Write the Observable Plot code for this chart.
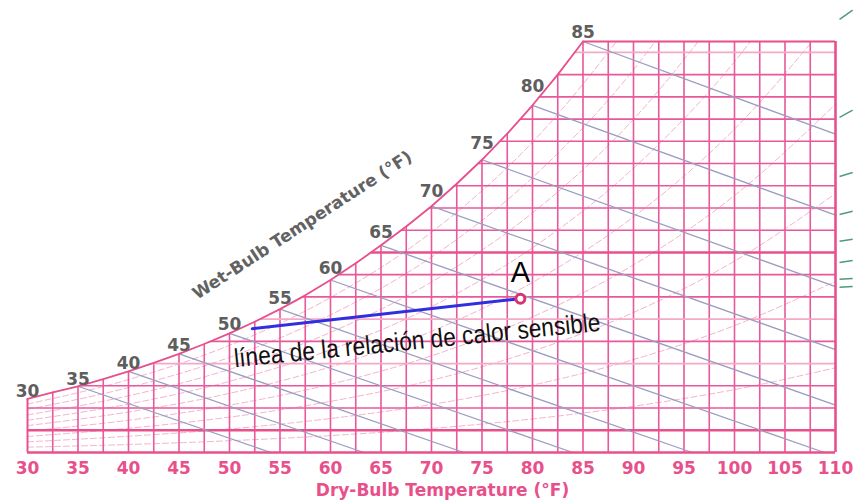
<!DOCTYPE html>
<html><head><meta charset="utf-8">
<script src="https://cdn.jsdelivr.net/npm/d3@7"></script>
<script src="https://cdn.jsdelivr.net/npm/@observablehq/plot@0.6"></script>
<style>body{margin:0;background:#fff}</style>
</head><body><div id="chart"></div>
<script>
// Saturation curve: dry-bulb (°F) vs humidity ratio (grains / lb dry air)
const satTemps  = [30,32.5,35,37.5,40,42.5,45,47.5,50,52.5,55,57.5,60,62.5,65,67.5,70,72.5,75,77.5,80,82.5,85];
const satGrains = [24.1,27.1,29.8,33.0,36.5,40.3,44.4,48.8,53.6,58.8,64.5,70.7,77.6,85.1,93.2,101.7,110.8,120.9,131.7,143.4,156.2,170.0,184.9];

const dryBulbTicks = [30,35,40,45,50,55,60,65,70,75,80,85,90,95,100,105,110];
const wetBulbLabels = [30,35,40,45,50,55,60,65,70,75,80,85];
const gridTemps = [32.5,35,37.5,40,42.5,45,47.5,50,52.5,55,57.5,60,62.5,65,67.5,70,72.5,75,77.5,80,82.5,85,87.5,90,92.5,95,97.5,100,102.5,105,107.5];
const gridGrains = [10,20,30,40,50,60,70,80,90,100,110,120,130,140,150,160,170,180];
const lightGrains = [40,60,180];
const heavyGrains = [10,90];

// Relative humidity curves (10 % ... 90 %) sampled at these dry-bulb temps
const rhTemps = [30,40,50,60,70,80,90,100,110];
const rh10 = [2.4,3.6,5.3,7.6,10.8,15.1,20.8,28.3,38.1];
const rh20 = [4.8,7.3,10.6,15.3,21.6,30.3,41.8,57.1,77.0];
const rh30 = [7.2,10.9,15.9,23.0,32.5,45.6,63.0,86.1,116.5];
const rh40 = [9.7,14.5,21.3,30.7,43.5,61.0,84.4,115.6,156.7];
const rh50 = [12.1,18.2,26.6,38.5,54.5,76.5,106.0,145.5,197.7];
const rh60 = [14.5,21.8,32.0,46.2,65.6,92.1,127.9,175.8,239.4];
const rh70 = [16.9,25.5,37.4,54.0,76.7,107.8,149.9,206.4];
const rh80 = [19.4,29.2,42.8,61.9,87.9,123.7,172.2,237.5];
const rh90 = [21.8,32.8,48.2,69.7,99.1,139.6,194.7];
const rhSeries = [rh10,rh20,rh30,rh40,rh50,rh60,rh70,rh80,rh90];

// Wet-bulb lines: start on saturation at the wet-bulb temp, end at chart edge
const wbTemps      = [35,40,45,50,55,60,65,70,75,80,85];
const wbEndTemps   = [54.1,63.3,73.2,84.0,95.8,108.9,110,110,110,110,110];
const wbEndGrains  = [0,0,0,0,0,0,21.3,46.3,74.6,106.8,143.2];

// Sensible heat ratio line, from its start to state point A
const shrTemps  = [52.25, 78.8];
const shrGrains = [55.7, 69.2];

// Cut-off protractor ticks at the right edge
const protTempsLeftRight = [110.4, 111.7];
const protLeft  = [194.9,150.8,124.2,107.1,95.0,85.5,77.9,74.3];
const protRight = [199.0,154.0,126.0,108.5,95.9,86.4,78.3,74.7];

const xTitle = "Dry-Bulb Temperature (°F)";
const wbTitle = "Wet-Bulb Temperature (°F)";
const shrLabel = "línea de la relación de calor sensible";
const pointLabel = "A";

const tMin = 30, tMax = 110, wTop = satGrains[satGrains.length-1], tSatEnd = satTemps[satTemps.length-1];
const satData = satTemps.map((t,i)=>({t, w: satGrains[i]}));
const satAt = t => satGrains[satTemps.indexOf(t)];

const rhData = rhSeries.flatMap((s,k)=> s.map((w,i)=>({rh:(k+1)*10, t: rhTemps[i], w})));

const pink = "#e8508b", pinkLight = "#f4a9c7", gridPink = "#e8589a", rhPink = "#f5b3cd";
const numFont = "DejaVu Sans";

// label offsets (px) derived from local slope of the curve
const xpx = (835-27)/(tMax-tMin), ypx = (452-41)/wTop;
const wbLabelData = wetBulbLabels.map((t,k)=>{
  const i = satTemps.indexOf(t);
  const a = satGrains[Math.max(0,i-1)], b = satGrains[Math.min(satGrains.length-1,i+1)];
  const dt = satTemps[Math.min(satTemps.length-1,i+1)] - satTemps[Math.max(0,i-1)];
  const s = (b-a)/dt*ypx/xpx;
  const off = (k === wetBulbLabels.length-1) ? 9 : 3.5 + 13*s;
  return {t, w: satGrains[i] + off/ypx, label: String(t)};
});

const shrMid = {t:(shrTemps[0]+shrTemps[1])/2, w:(shrGrains[0]+shrGrains[1])/2};

const chart = Plot.plot({
  width: 855, height: 501,
  marginLeft: 27, marginRight: 20, marginTop: 41, marginBottom: 49,
  x: {domain: [tMin, tMax], range: [27, 835], axis: null},
  y: {domain: [0, wTop], range: [452, 41], axis: null},
  marks: [
    // RH curves
    Plot.line(rhData, {x:"t", y:"w", z:"rh", curve:"monotone-x", stroke: rhPink, strokeWidth: 1, strokeDasharray: "6,3"}),
    // vertical dry-bulb grid
    Plot.ruleX(gridTemps, {y1: 0, y2: wTop, stroke: gridPink, strokeWidth: 1.6}),
    // horizontal humidity grid
    Plot.ruleY(gridGrains.filter(g=>!lightGrains.includes(g) && !heavyGrains.includes(g)), {x1: tMin, x2: tMax, stroke: gridPink, strokeWidth: 1.6}),
    Plot.ruleY(lightGrains, {x1: tMin, x2: tMax, stroke: pinkLight, strokeWidth: 1.6}),
    Plot.ruleY(heavyGrains, {x1: tMin, x2: tMax, stroke: pink, strokeWidth: 2.4}),
    // wet-bulb lines
    Plot.link(wbTemps, {x1: d=>d, y1: d=>satAt(d), x2: (d,i)=>wbEndTemps[i], y2: (d,i)=>wbEndGrains[i], stroke: "#9a9dc0", strokeWidth: 1.3}),
    // mask above saturation
    Plot.areaY(satData, {x:"t", y1:"w", y2: 420, fill:"white"}),
    Plot.rect([0], {x1: tSatEnd, x2: tMax + 0.3, y1: wTop, y2: 420, fill: "white"}),
    // borders
    Plot.line(satData, {x:"t", y:"w", stroke: pink, strokeWidth: 1.8}),
    Plot.ruleY([wTop], {x1: tSatEnd, x2: tMax, stroke: pink, strokeWidth: 2.2}),
    Plot.ruleX([tMax], {y1: 0, y2: wTop, stroke: pink, strokeWidth: 2.6}),
    Plot.ruleX([tMin], {y1: 0, y2: satGrains[0], stroke: pink, strokeWidth: 2}),
    Plot.ruleY([0], {x1: tMin, x2: tMax, stroke: pink, strokeWidth: 2.6}),
    // protractor ticks
    Plot.link(protLeft, {x1: protTempsLeftRight[0], x2: protTempsLeftRight[1], y1: d=>d, y2: (d,i)=>protRight[i], stroke: "#4f9a7a", strokeWidth: 1.5}),
    // wet-bulb numbers
    Plot.text(wbLabelData, {x:"t", y:"w", text:"label", fontFamily: numFont, fontWeight: "bold", fontSize: 17, fill: "#5e5e5e", textAnchor: "middle", lineAnchor: "middle"}),
    // dry-bulb tick labels
    Plot.text(dryBulbTicks, {x: d=>d, y: 0, dy: 16, text: d=>String(d), fontFamily: numFont, fontWeight: "bold", fontSize: 17, fill: pink, lineAnchor: "middle"}),
    Plot.text([xTitle], {frameAnchor: "bottom", dx: 11, dy: 38, fontFamily: numFont, fontWeight: "bold", fontSize: 17, fill: pink, lineAnchor: "middle"}),
    Plot.text([wbTitle], {x: 57.2, y: 102.2, rotate: -33, fontFamily: numFont, fontWeight: "bold", fontSize: 17, fill: "#626262", lineAnchor: "middle"}),
    // SHR line and point A
    Plot.line(shrTemps.map((t,i)=>({t, w: shrGrains[i]})), {x:"t", y:"w", stroke: "#2f2fe0", strokeWidth: 3}),
    Plot.dot([{t: shrTemps[1], w: shrGrains[1]}], {x:"t", y:"w", r: 4.5, stroke: "#d8336f", strokeWidth: 3, fill: "white"}),
    Plot.text([pointLabel], {x: ()=>shrTemps[1], y: ()=>shrGrains[1], dy: -26, fontFamily: "Liberation Sans, Arial, sans-serif", fontSize: 29, fill: "#000", lineAnchor: "middle"}),
    Plot.text([shrLabel], {x: ()=>shrMid.t, y: ()=>shrMid.w, dx: 31, dy: 27, rotate: -5.7, fontFamily: "Liberation Sans Narrow, Arial Narrow, Liberation Sans, sans-serif", fontSize: 26, fill: "#111", lineAnchor: "middle"})
  ]
});
document.getElementById("chart").appendChild(chart);
// condense the annotation to the reference's length
d3.select(chart).selectAll("text").filter(function(){ return this.textContent === shrLabel; })
  .attr("textLength", 368).attr("lengthAdjust", "spacingAndGlyphs");
</script>
</body></html>
